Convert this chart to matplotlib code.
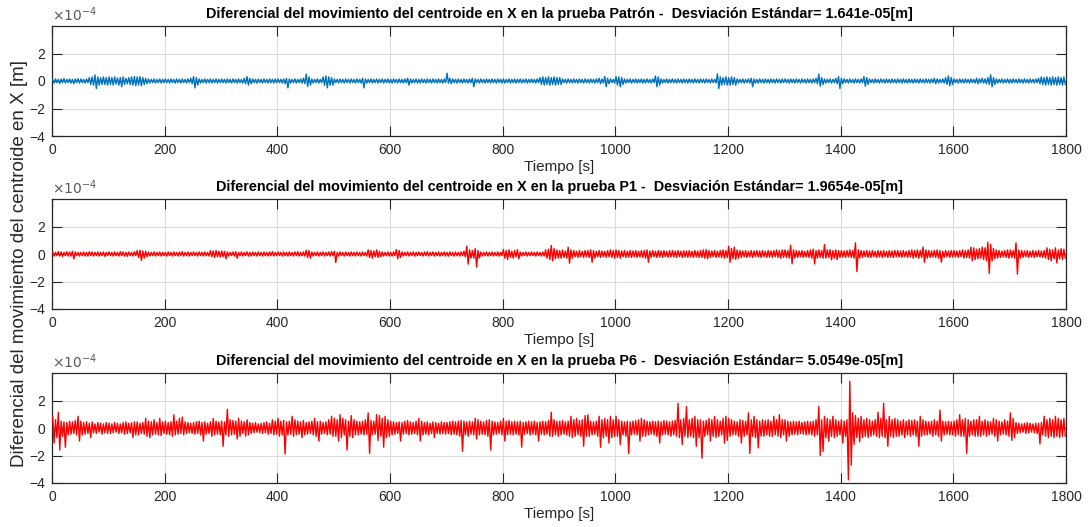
import numpy as np
import matplotlib
matplotlib.use("Agg")
import matplotlib.pyplot as plt

# Each series is given as the upper / lower excursion in every 5 s window
# (units of 1e-4 m) over 0..1800 s; one row per 50 s.
window_s = 5
t_max = 1800

patron_hi = [
    0.12, 0.15, 0.12, 0.15, 0.18, 0.12, 0.15, 0.12, 0.15, 0.17,
    0.15, 0.12, 0.15, 0.25, 0.3, 0.45, 0.3, 0.25, 0.3, 0.25,
    0.3, 0.25, 0.3, 0.22, 0.25, 0.3, 0.2, 0.25, 0.3, 0.32,
    0.3, 0.32, 0.25, 0.2, 0.15, 0.12, 0.15, 0.12, 0.15, 0.12,
    0.15, 0.12, 0.15, 0.12, 0.15, 0.12, 0.15, 0.12, 0.15, 0.2,
    0.32, 0.25, 0.15, 0.12, 0.15, 0.12, 0.15, 0.12, 0.15, 0.12,
    0.15, 0.12, 0.15, 0.12, 0.15, 0.12, 0.15, 0.12, 0.2, 0.32,
    0.2, 0.15, 0.12, 0.15, 0.12, 0.15, 0.12, 0.15, 0.12, 0.15,
    0.15, 0.12, 0.15, 0.2, 0.15, 0.12, 0.15, 0.12, 0.15, 0.2,
    0.5, 0.3, 0.15, 0.12, 0.15, 0.12, 0.3, 0.37, 0.3, 0.25,
    0.15, 0.12, 0.15, 0.12, 0.15, 0.12, 0.15, 0.12, 0.15, 0.12,
    0.2, 0.15, 0.12, 0.15, 0.12, 0.15, 0.12, 0.15, 0.12, 0.15,
    0.12, 0.15, 0.12, 0.15, 0.12, 0.15, 0.2, 0.15, 0.12, 0.15,
    0.12, 0.15, 0.12, 0.15, 0.12, 0.15, 0.12, 0.15, 0.12, 0.15,
    0.57, 0.2, 0.15, 0.12, 0.15, 0.12, 0.15, 0.12, 0.15, 0.2,
    0.15, 0.12, 0.15, 0.12, 0.15, 0.12, 0.15, 0.12, 0.15, 0.12,
    0.15, 0.12, 0.15, 0.12, 0.15, 0.12, 0.15, 0.12, 0.15, 0.12,
    0.15, 0.12, 0.15, 0.25, 0.3, 0.25, 0.3, 0.25, 0.3, 0.25,
    0.25, 0.15, 0.12, 0.15, 0.12, 0.15, 0.12, 0.15, 0.12, 0.15,
    0.12, 0.15, 0.12, 0.15, 0.2, 0.15, 0.32, 0.2, 0.15, 0.12,
    0.32, 0.3, 0.25, 0.15, 0.12, 0.15, 0.12, 0.15, 0.12, 0.15,
    0.12, 0.15, 0.12, 0.15, 0.37, 0.3, 0.15, 0.12, 0.15, 0.12,
    0.15, 0.12, 0.15, 0.12, 0.15, 0.12, 0.15, 0.12, 0.15, 0.12,
    0.15, 0.12, 0.15, 0.12, 0.15, 0.12, 0.52, 0.3, 0.25, 0.3,
    0.25, 0.3, 0.25, 0.15, 0.12, 0.15, 0.12, 0.15, 0.2, 0.15,
    0.12, 0.15, 0.12, 0.15, 0.12, 0.15, 0.12, 0.15, 0.12, 0.15,
    0.15, 0.12, 0.15, 0.12, 0.15, 0.12, 0.15, 0.12, 0.15, 0.12,
    0.15, 0.2, 0.5, 0.25, 0.15, 0.12, 0.15, 0.12, 0.2, 0.32,
    0.2, 0.15, 0.12, 0.15, 0.12, 0.15, 0.12, 0.15, 0.32, 0.25,
    0.15, 0.12, 0.15, 0.12, 0.15, 0.12, 0.15, 0.12, 0.15, 0.12,
    0.15, 0.12, 0.15, 0.12, 0.15, 0.12, 0.15, 0.12, 0.15, 0.12,
    0.15, 0.12, 0.15, 0.2, 0.15, 0.12, 0.15, 0.25, 0.37, 0.25,
    0.15, 0.12, 0.15, 0.12, 0.15, 0.12, 0.15, 0.12, 0.2, 0.15,
    0.2, 0.15, 0.25, 0.45, 0.25, 0.15, 0.12, 0.15, 0.12, 0.15,
    0.12, 0.15, 0.12, 0.15, 0.12, 0.15, 0.12, 0.15, 0.12, 0.15,
    0.2, 0.3, 0.25, 0.3, 0.25, 0.3, 0.25, 0.3, 0.25, 0.3,
]
patron_lo = [
    -0.15, -0.12, -0.18, -0.12, -0.15, -0.12, -0.15, -0.2, -0.12, -0.15,
    -0.12, -0.15, -0.12, -0.25, -0.3, -0.55, -0.3, -0.25, -0.25, -0.3,
    -0.25, -0.3, -0.22, -0.3, -0.42, -0.25, -0.2, -0.25, -0.3, -0.35,
    -0.3, -0.35, -0.25, -0.2, -0.15, -0.12, -0.15, -0.12, -0.15, -0.12,
    -0.12, -0.15, -0.12, -0.15, -0.12, -0.15, -0.12, -0.15, -0.12, -0.2,
    -0.5, -0.3, -0.15, -0.12, -0.15, -0.12, -0.15, -0.12, -0.15, -0.12,
    -0.12, -0.15, -0.12, -0.15, -0.12, -0.15, -0.12, -0.15, -0.2, -0.3,
    -0.2, -0.12, -0.15, -0.12, -0.15, -0.12, -0.15, -0.12, -0.15, -0.12,
    -0.12, -0.15, -0.2, -0.5, -0.15, -0.12, -0.15, -0.12, -0.15, -0.2,
    -0.4, -0.3, -0.15, -0.12, -0.15, -0.12, -0.3, -0.5, -0.3, -0.3,
    -0.12, -0.15, -0.12, -0.15, -0.12, -0.15, -0.12, -0.15, -0.12, -0.15,
    -0.5, -0.15, -0.12, -0.15, -0.12, -0.15, -0.12, -0.15, -0.12, -0.15,
    -0.15, -0.12, -0.15, -0.12, -0.15, -0.12, -0.3, -0.15, -0.12, -0.15,
    -0.15, -0.12, -0.15, -0.12, -0.15, -0.12, -0.15, -0.12, -0.15, -0.12,
    -0.15, -0.2, -0.12, -0.15, -0.12, -0.15, -0.12, -0.15, -0.12, -0.42,
    -0.12, -0.15, -0.12, -0.15, -0.12, -0.15, -0.12, -0.15, -0.12, -0.15,
    -0.15, -0.12, -0.15, -0.12, -0.15, -0.12, -0.15, -0.12, -0.15, -0.12,
    -0.12, -0.15, -0.12, -0.25, -0.3, -0.25, -0.3, -0.25, -0.3, -0.25,
    -0.25, -0.12, -0.15, -0.12, -0.15, -0.12, -0.15, -0.12, -0.15, -0.12,
    -0.15, -0.12, -0.15, -0.12, -0.2, -0.15, -0.42, -0.2, -0.12, -0.15,
    -0.3, -0.42, -0.25, -0.15, -0.12, -0.15, -0.12, -0.15, -0.12, -0.15,
    -0.15, -0.12, -0.15, -0.12, -0.42, -0.3, -0.15, -0.12, -0.15, -0.12,
    -0.12, -0.15, -0.12, -0.15, -0.12, -0.15, -0.12, -0.15, -0.12, -0.15,
    -0.12, -0.15, -0.12, -0.15, -0.12, -0.15, -0.55, -0.3, -0.25, -0.3,
    -0.3, -0.25, -0.3, -0.15, -0.12, -0.15, -0.12, -0.15, -0.42, -0.15,
    -0.15, -0.12, -0.15, -0.12, -0.15, -0.12, -0.15, -0.12, -0.15, -0.12,
    -0.12, -0.15, -0.12, -0.15, -0.12, -0.15, -0.12, -0.15, -0.12, -0.15,
    -0.12, -0.2, -0.38, -0.25, -0.15, -0.12, -0.15, -0.12, -0.2, -0.55,
    -0.2, -0.12, -0.15, -0.12, -0.15, -0.12, -0.15, -0.12, -0.38, -0.25,
    -0.12, -0.15, -0.12, -0.15, -0.12, -0.15, -0.12, -0.15, -0.12, -0.15,
    -0.12, -0.15, -0.12, -0.15, -0.12, -0.15, -0.12, -0.15, -0.12, -0.15,
    -0.12, -0.15, -0.12, -0.2, -0.15, -0.12, -0.15, -0.25, -0.35, -0.25,
    -0.12, -0.15, -0.12, -0.15, -0.12, -0.15, -0.12, -0.15, -0.2, -0.12,
    -0.15, -0.2, -0.25, -0.42, -0.25, -0.15, -0.12, -0.15, -0.12, -0.15,
    -0.15, -0.12, -0.15, -0.12, -0.15, -0.12, -0.15, -0.12, -0.15, -0.12,
    -0.2, -0.25, -0.3, -0.25, -0.3, -0.25, -0.3, -0.25, -0.3, -0.25,
]

p1_hi = [
    0.15, 0.12, 0.18, 0.15, 0.12, 0.17, 0.15, 0.2, 0.15, 0.12,
    0.12, 0.15, 0.12, 0.17, 0.15, 0.12, 0.15, 0.12, 0.15, 0.12,
    0.15, 0.12, 0.15, 0.12, 0.17, 0.15, 0.12, 0.15, 0.12, 0.17,
    0.25, 0.27, 0.22, 0.2, 0.15, 0.12, 0.15, 0.12, 0.15, 0.12,
    0.12, 0.15, 0.12, 0.15, 0.12, 0.15, 0.17, 0.12, 0.15, 0.12,
    0.15, 0.12, 0.15, 0.12, 0.15, 0.12, 0.25, 0.22, 0.25, 0.2,
    0.22, 0.2, 0.15, 0.12, 0.15, 0.17, 0.12, 0.15, 0.12, 0.15,
    0.12, 0.15, 0.12, 0.15, 0.12, 0.15, 0.12, 0.15, 0.17, 0.12,
    0.15, 0.12, 0.15, 0.12, 0.15, 0.12, 0.15, 0.17, 0.12, 0.15,
    0.27, 0.25, 0.15, 0.12, 0.15, 0.12, 0.15, 0.12, 0.15, 0.17,
    0.2, 0.12, 0.15, 0.12, 0.15, 0.12, 0.15, 0.12, 0.15, 0.12,
    0.15, 0.12, 0.3, 0.25, 0.22, 0.3, 0.2, 0.15, 0.12, 0.15,
    0.12, 0.15, 0.32, 0.25, 0.15, 0.12, 0.15, 0.12, 0.15, 0.12,
    0.15, 0.12, 0.15, 0.17, 0.12, 0.15, 0.12, 0.15, 0.12, 0.15,
    0.12, 0.15, 0.12, 0.15, 0.12, 0.15, 0.2, 0.57, 0.3, 0.25,
    0.4, 0.25, 0.15, 0.12, 0.15, 0.12, 0.15, 0.12, 0.15, 0.12,
    0.32, 0.25, 0.3, 0.2, 0.25, 0.32, 0.15, 0.12, 0.15, 0.12,
    0.15, 0.12, 0.15, 0.12, 0.15, 0.3, 0.35, 0.62, 0.4, 0.3,
    0.25, 0.3, 0.22, 0.5, 0.3, 0.25, 0.2, 0.25, 0.2, 0.25,
    0.25, 0.3, 0.25, 0.2, 0.25, 0.22, 0.2, 0.25, 0.3, 0.25,
    0.3, 0.25, 0.22, 0.25, 0.2, 0.25, 0.22, 0.25, 0.2, 0.25,
    0.25, 0.3, 0.22, 0.25, 0.2, 0.25, 0.22, 0.25, 0.2, 0.25,
    0.25, 0.22, 0.25, 0.2, 0.25, 0.22, 0.25, 0.2, 0.25, 0.22,
    0.25, 0.3, 0.32, 0.25, 0.22, 0.25, 0.2, 0.25, 0.3, 0.25,
    0.57, 0.4, 0.5, 0.3, 0.25, 0.22, 0.25, 0.2, 0.25, 0.22,
    0.25, 0.22, 0.25, 0.2, 0.25, 0.22, 0.25, 0.3, 0.25, 0.3,
    0.3, 0.25, 0.64, 0.3, 0.25, 0.22, 0.25, 0.2, 0.25, 0.3,
    0.35, 0.25, 0.3, 0.25, 0.69, 0.3, 0.32, 0.25, 0.3, 0.25,
    0.25, 0.22, 0.25, 0.3, 0.25, 0.81, 0.3, 0.25, 0.22, 0.25,
    0.22, 0.25, 0.2, 0.25, 0.22, 0.25, 0.2, 0.25, 0.22, 0.25,
    0.25, 0.22, 0.25, 0.2, 0.25, 0.3, 0.25, 0.3, 0.25, 0.5,
    0.3, 0.25, 0.22, 0.25, 0.3, 0.25, 0.2, 0.25, 0.22, 0.25,
    0.25, 0.22, 0.25, 0.3, 0.25, 0.3, 0.5, 0.45, 0.35, 0.4,
    0.5, 0.45, 0.86, 0.7, 0.4, 0.3, 0.25, 0.22, 0.25, 0.3,
    0.3, 0.25, 0.81, 0.3, 0.25, 0.22, 0.25, 0.2, 0.25, 0.22,
    0.25, 0.22, 0.25, 0.45, 0.35, 0.3, 0.45, 0.3, 0.4, 0.35,
]
p1_lo = [
    -0.15, -0.12, -0.15, -0.18, -0.12, -0.15, -0.15, -0.35, -0.12, -0.15,
    -0.12, -0.15, -0.15, -0.12, -0.15, -0.12, -0.15, -0.12, -0.17, -0.12,
    -0.12, -0.15, -0.12, -0.15, -0.12, -0.15, -0.17, -0.12, -0.15, -0.12,
    -0.25, -0.47, -0.3, -0.2, -0.15, -0.12, -0.15, -0.12, -0.15, -0.12,
    -0.15, -0.12, -0.15, -0.12, -0.15, -0.12, -0.15, -0.12, -0.15, -0.12,
    -0.12, -0.15, -0.12, -0.15, -0.12, -0.15, -0.2, -0.25, -0.2, -0.22,
    -0.2, -0.35, -0.15, -0.12, -0.15, -0.3, -0.12, -0.15, -0.12, -0.15,
    -0.15, -0.12, -0.15, -0.12, -0.15, -0.12, -0.15, -0.12, -0.15, -0.12,
    -0.12, -0.15, -0.12, -0.15, -0.12, -0.15, -0.12, -0.15, -0.12, -0.15,
    -0.25, -0.3, -0.15, -0.12, -0.15, -0.12, -0.15, -0.12, -0.15, -0.12,
    -0.62, -0.15, -0.12, -0.15, -0.12, -0.15, -0.12, -0.15, -0.12, -0.15,
    -0.12, -0.15, -0.25, -0.3, -0.2, -0.25, -0.2, -0.15, -0.12, -0.15,
    -0.15, -0.12, -0.35, -0.25, -0.15, -0.12, -0.15, -0.12, -0.15, -0.12,
    -0.12, -0.15, -0.12, -0.15, -0.12, -0.15, -0.12, -0.15, -0.12, -0.15,
    -0.15, -0.12, -0.15, -0.12, -0.15, -0.12, -0.2, -0.74, -0.3, -0.3,
    -0.96, -0.3, -0.15, -0.12, -0.15, -0.12, -0.15, -0.12, -0.15, -0.12,
    -0.3, -0.4, -0.25, -0.3, -0.2, -0.35, -0.15, -0.12, -0.15, -0.12,
    -0.12, -0.15, -0.12, -0.15, -0.15, -0.3, -0.4, -0.5, -0.35, -0.3,
    -0.3, -0.25, -0.3, -0.67, -0.3, -0.2, -0.25, -0.2, -0.25, -0.2,
    -0.25, -0.6, -0.3, -0.2, -0.25, -0.2, -0.25, -0.2, -0.25, -0.3,
    -0.25, -0.3, -0.2, -0.25, -0.22, -0.25, -0.2, -0.25, -0.22, -0.25,
    -0.3, -0.6, -0.25, -0.2, -0.25, -0.22, -0.25, -0.2, -0.25, -0.22,
    -0.22, -0.25, -0.2, -0.25, -0.22, -0.25, -0.2, -0.25, -0.22, -0.25,
    -0.25, -0.3, -0.35, -0.25, -0.2, -0.25, -0.22, -0.25, -0.3, -0.25,
    -0.6, -0.35, -0.4, -0.3, -0.25, -0.2, -0.25, -0.22, -0.25, -0.2,
    -0.22, -0.25, -0.2, -0.25, -0.22, -0.25, -0.2, -0.25, -0.3, -0.25,
    -0.25, -0.3, -0.72, -0.3, -0.25, -0.2, -0.25, -0.22, -0.25, -0.3,
    -0.72, -0.3, -0.25, -0.3, -0.3, -0.25, -0.42, -0.3, -0.4, -0.25,
    -0.22, -0.25, -0.2, -0.25, -0.3, -1.28, -0.3, -0.25, -0.2, -0.25,
    -0.25, -0.2, -0.25, -0.22, -0.25, -0.2, -0.25, -0.22, -0.25, -0.2,
    -0.22, -0.25, -0.2, -0.25, -0.22, -0.3, -0.25, -0.3, -0.25, -0.6,
    -0.3, -0.25, -0.22, -0.25, -0.3, -0.6, -0.25, -0.2, -0.25, -0.22,
    -0.22, -0.25, -0.2, -0.3, -0.25, -0.3, -0.5, -0.4, -0.35, -0.3,
    -0.4, -0.5, -1.4, -0.5, -0.35, -0.3, -0.25, -0.22, -0.25, -0.3,
    -0.25, -0.3, -1.46, -0.3, -0.25, -0.2, -0.25, -0.22, -0.25, -0.2,
    -0.22, -0.25, -0.3, -0.4, -0.5, -0.35, -0.65, -0.35, -0.4, -0.3,
]

p6_hi = [
    0.85, 0.6, 1.15, 0.5, 0.45, 0.4, 0.5, 0.45, 0.55, 0.85,
    0.5, 0.4, 0.45, 0.35, 0.45, 0.3, 0.4, 0.35, 0.3, 0.4,
    0.35, 0.3, 0.4, 0.35, 0.3, 0.4, 0.45, 0.35, 0.4, 0.45,
    0.45, 0.35, 0.4, 0.7, 0.5, 0.45, 0.6, 0.4, 0.7, 0.45,
    0.5, 0.4, 0.45, 0.97, 0.5, 0.7, 0.8, 0.45, 0.4, 0.35,
    0.4, 0.45, 0.5, 0.4, 0.45, 0.35, 0.45, 0.7, 0.5, 0.45,
    0.5, 0.45, 1.36, 0.6, 0.55, 0.5, 0.7, 0.5, 0.45, 0.6,
    0.4, 0.35, 0.4, 0.3, 0.35, 0.4, 0.45, 0.35, 0.6, 0.5,
    0.7, 0.5, 0.55, 0.45, 0.5, 0.85, 0.6, 0.5, 0.45, 0.55,
    0.4, 0.45, 0.5, 0.7, 0.45, 0.5, 0.4, 0.45, 0.6, 0.85,
    0.7, 0.6, 0.97, 0.7, 0.6, 0.5, 0.9, 0.6, 0.5, 0.45,
    0.5, 0.6, 1.1, 0.55, 0.5, 0.97, 0.9, 0.7, 0.85, 0.6,
    0.5, 0.45, 0.4, 0.45, 0.4, 0.5, 0.55, 0.45, 0.4, 0.5,
    0.7, 0.5, 0.4, 0.45, 0.35, 0.45, 0.4, 0.35, 0.45, 0.4,
    0.4, 0.45, 0.5, 0.45, 0.5, 0.55, 0.5, 0.45, 0.5, 0.45,
    0.7, 0.6, 0.5, 0.45, 0.55, 0.6, 0.5, 0.45, 0.4, 0.5,
    0.7, 0.5, 0.55, 0.45, 0.5, 0.45, 0.5, 0.4, 0.45, 0.5,
    0.45, 0.5, 0.4, 0.45, 0.5, 0.45, 0.55, 1.15, 0.6, 0.5,
    0.5, 0.55, 0.45, 0.5, 0.85, 0.6, 0.7, 0.55, 0.6, 0.9,
    0.97, 0.5, 0.45, 0.5, 0.85, 0.6, 0.7, 0.6, 0.85, 0.6,
    0.85, 0.6, 0.5, 0.45, 0.5, 0.45, 0.5, 0.55, 0.6, 0.7,
    0.6, 0.5, 0.45, 0.5, 0.45, 0.5, 0.45, 0.55, 0.5, 0.45,
    0.5, 0.55, 1.8, 0.6, 0.7, 1.56, 0.6, 0.7, 0.85, 0.6,
    0.6, 0.5, 0.55, 0.7, 0.6, 0.85, 0.6, 0.5, 0.7, 0.85,
    0.7, 0.6, 0.5, 0.45, 0.6, 0.55, 0.5, 1.1, 0.6, 0.85,
    0.6, 0.5, 0.6, 0.55, 0.6, 0.5, 0.85, 0.6, 0.97, 0.6,
    0.6, 0.5, 0.45, 0.5, 0.45, 0.5, 0.4, 0.45, 0.5, 0.45,
    0.5, 0.6, 1.56, 0.6, 0.85, 0.7, 0.6, 0.85, 0.6, 0.5,
    0.6, 0.5, 0.6, 3.4, 1.1, 0.9, 0.7, 0.85, 0.6, 0.7,
    0.6, 0.5, 0.6, 1.15, 0.7, 1.8, 0.6, 0.85, 0.6, 0.7,
    0.6, 0.5, 0.6, 0.5, 0.6, 0.55, 0.6, 0.5, 0.85, 0.6,
    0.5, 0.45, 0.5, 0.6, 0.5, 1.3, 0.5, 0.45, 0.5, 0.45,
    0.5, 0.6, 0.97, 0.6, 0.7, 0.6, 0.5, 0.6, 0.6, 0.85,
    0.5, 0.6, 0.5, 0.45, 0.7, 0.6, 0.5, 0.45, 0.6, 0.5,
    1.1, 0.7, 0.4, 0.35, 0.3, 0.35, 0.4, 0.35, 0.3, 0.35,
    0.35, 0.4, 0.85, 0.6, 0.7, 0.6, 0.85, 0.7, 0.6, 0.7,
]
p6_lo = [
    -1.1, -0.7, -1.6, -0.6, -1.4, -0.5, -0.45, -0.4, -0.5, -0.95,
    -0.5, -0.45, -0.4, -0.7, -0.35, -0.4, -0.3, -0.45, -0.35, -0.4,
    -0.4, -0.35, -0.3, -0.4, -0.35, -0.45, -0.4, -0.35, -0.7, -0.5,
    -0.5, -0.4, -0.45, -0.6, -0.7, -0.5, -0.45, -0.5, -0.55, -0.4,
    -0.45, -0.5, -0.6, -0.5, -0.45, -0.4, -0.5, -0.4, -0.35, -0.4,
    -0.45, -0.4, -0.5, -0.95, -0.45, -0.4, -0.6, -0.5, -0.45, -0.5,
    -1.33, -0.5, -0.6, -0.5, -0.45, -0.8, -0.6, -0.4, -0.6, -0.5,
    -0.4, -0.35, -0.3, -0.35, -0.4, -0.35, -0.45, -0.4, -0.5, -0.45,
    -0.6, -0.5, -1.9, -0.5, -0.45, -0.6, -0.5, -0.45, -0.7, -0.5,
    -0.45, -0.4, -0.5, -0.6, -0.95, -0.45, -0.4, -0.5, -0.45, -0.6,
    -0.6, -0.95, -0.7, -0.5, -1.6, -0.6, -0.7, -0.5, -0.5, -0.45,
    -0.5, -0.45, -1.85, -0.5, -0.45, -0.9, -0.6, -1.4, -0.7, -0.6,
    -0.5, -0.45, -0.4, -0.95, -0.45, -0.4, -0.5, -0.45, -0.4, -0.5,
    -0.95, -0.5, -0.45, -0.5, -0.4, -0.7, -0.4, -0.45, -0.4, -0.45,
    -0.4, -0.5, -0.45, -0.5, -0.6, -1.7, -0.5, -0.6, -0.45, -0.5,
    -0.8, -0.5, -0.45, -0.5, -0.6, -1.6, -0.5, -0.45, -0.4, -0.5,
    -0.95, -0.5, -0.45, -0.5, -0.45, -0.5, -1.4, -0.45, -0.4, -0.5,
    -0.45, -0.5, -0.95, -0.45, -0.5, -0.45, -0.6, -0.6, -0.5, -0.6,
    -0.5, -0.45, -0.5, -0.6, -0.7, -0.6, -0.5, -0.6, -1.33, -0.6,
    -0.6, -0.5, -0.45, -0.6, -1.4, -0.7, -0.6, -1.1, -0.7, -0.6,
    -0.6, -1.2, -0.5, -0.6, -1.85, -0.5, -0.45, -0.5, -0.95, -0.6,
    -0.6, -0.5, -0.45, -0.5, -0.6, -1.1, -0.5, -0.45, -0.5, -0.6,
    -0.5, -0.6, -0.7, -1.2, -0.6, -0.7, -0.6, -0.7, -1.33, -0.7,
    -2.2, -0.6, -0.5, -0.95, -0.6, -0.7, -0.6, -0.5, -1.1, -0.9,
    -0.6, -0.5, -0.5, -0.6, -1.1, -0.6, -0.5, -1.85, -0.6, -0.7,
    -1.45, -0.6, -0.6, -0.5, -0.6, -0.6, -0.5, -0.6, -0.7, -0.5,
    -0.95, -0.6, -0.5, -0.45, -0.5, -0.4, -0.45, -0.5, -0.45, -0.5,
    -0.6, -0.5, -2.0, -1.7, -0.7, -0.95, -0.6, -0.7, -0.6, -0.5,
    -1.1, -0.6, -3.77, -2.7, -1.2, -0.7, -1.0, -0.7, -0.6, -0.7,
    -0.6, -0.5, -0.6, -0.7, -0.6, -0.7, -1.33, -0.6, -0.7, -0.6,
    -0.6, -0.5, -0.7, -0.5, -0.6, -0.5, -0.6, -1.33, -0.6, -0.5,
    -0.5, -0.45, -0.6, -0.5, -0.6, -0.95, -0.5, -0.45, -0.5, -0.5,
    -0.6, -0.5, -0.6, -0.6, -1.85, -0.6, -0.5, -0.6, -0.6, -0.6,
    -0.5, -0.6, -0.5, -0.45, -0.6, -0.95, -0.5, -0.45, -0.5, -0.6,
    -0.9, -0.7, -0.4, -0.35, -0.3, -0.4, -0.35, -0.3, -0.35, -0.4,
    -1.15, -0.5, -0.6, -0.7, -0.6, -0.7, -0.6, -0.7, -0.6, -0.6,
]

titles = [
    "Diferencial del movimiento del centroide en X en la prueba Patrón -  Desviación Estándar= 1.641e-05[m]",
    "Diferencial del movimiento del centroide en X en la prueba P1 -  Desviación Estándar= 1.9654e-05[m]",
    "Diferencial del movimiento del centroide en X en la prueba P6 -  Desviación Estándar= 5.0549e-05[m]",
]
series = [(patron_hi, patron_lo), (p1_hi, p1_lo), (p6_hi, p6_lo)]
colors = ["#0072BD", "#FF0000", "#FF0000"]
x_ticks = [0, 200, 400, 600, 800, 1000, 1200, 1400, 1600, 1800]
y_ticks = [-4, -2, 0, 2]

plt.rcParams["font.family"] = ["Liberation Sans", "DejaVu Sans"]
ink = "#262626"

fig = plt.figure(figsize=(10.89, 5.27), dpi=100)
left, width, height = 52 / 1089, 1014 / 1089, 110 / 527
bottoms = [1 - 136 / 527, 1 - 309 / 527, 1 - 483 / 527]


def zigzag(hi, lo):
    # two vertices per window: the upper excursion, then the lower one
    n = len(hi)
    starts = np.arange(n) * window_s
    t = np.empty(2 * n)
    y = np.empty(2 * n)
    t[0::2] = starts + window_s * 0.25
    t[1::2] = starts + window_s * 0.75
    y[0::2] = hi
    y[1::2] = lo
    return t, y


for bottom, title, (hi, lo), col in zip(bottoms, titles, series, colors):
    ax = fig.add_axes([left, bottom, width, height])
    t, y = zigzag(hi, lo)
    ax.plot(t, y, color=col, lw=1.0, zorder=3)
    ax.set_xlim(0, t_max)
    ax.set_ylim(-4, 4)
    ax.set_xticks(x_ticks)
    ax.set_yticks(y_ticks)
    ax.grid(True, color="#dcdcdc", lw=0.8, zorder=0)
    ax.set_axisbelow(True)
    ax.tick_params(direction="in", length=7.5, width=0.8, colors=ink,
                   labelsize=10, top=True, right=True, pad=5)
    for s in ax.spines.values():
        s.set_color(ink)
        s.set_linewidth(0.9)
    ax.set_xlabel("Tiempo [s]", fontsize=11, color=ink, labelpad=2)
    ax.set_title(title, fontsize=10.4, fontweight="bold", color="black", pad=6)
    ax.text(0, 1.02, r"$\times10^{-4}$", transform=ax.transAxes,
            fontsize=10, color="#595959", ha="left", va="bottom")

fig.text(20 / 1089, 0.5, "Diferencial del movimiento del centroide en X [m]",
         rotation=90, ha="center", va="center", fontsize=13.5, color=ink)

fig.savefig("out.png", dpi=100)
